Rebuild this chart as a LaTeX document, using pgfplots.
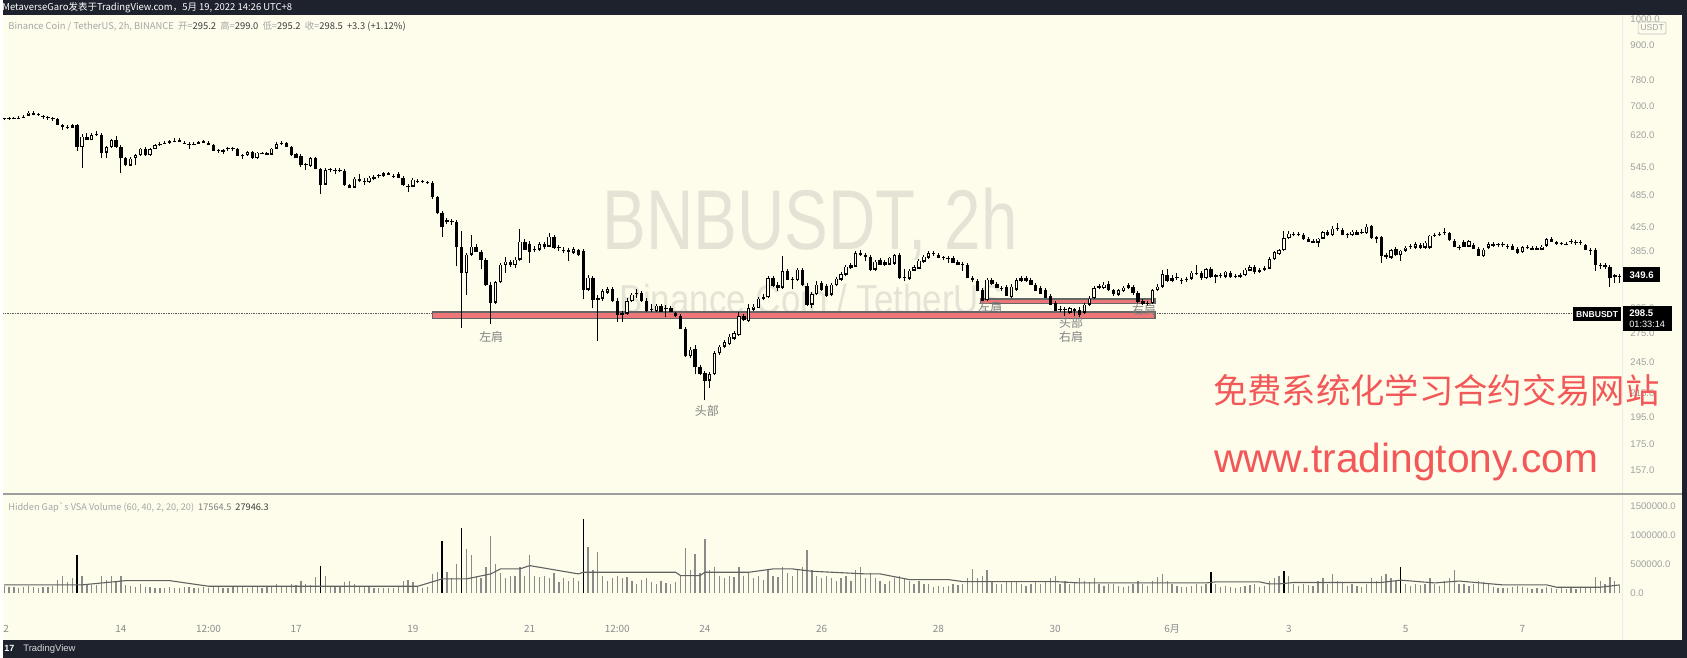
\documentclass[border=0pt]{standalone}
\usepackage{fontspec}
\setmainfont{Liberation Sans}
\newfontfamily\cjk{Noto Sans CJK SC}
\usepackage{graphicx}
\usepackage{pgfplots}
\usepackage{pgfplotstable}
\pgfplotsset{compat=1.18}
\definecolor{bgc}{RGB}{254,253,236}
\definecolor{darkbar}{RGB}{30,34,45}
\definecolor{axlab}{RGB}{160,160,160}
\definecolor{datelab}{RGB}{140,140,140}
\definecolor{redtxt}{RGB}{242,88,88}
\definecolor{wm}{RGB}{228,227,214}
\definecolor{volgray}{RGB}{138,138,138}
\definecolor{bandred}{RGB}{238,118,118}
\definecolor{leggray}{RGB}{166,166,166}
\definecolor{legdark}{RGB}{60,60,60}
\definecolor{pattxt}{RGB}{130,130,130}

\pgfplotstableread{
i o h l c v k
0 664 668 660 665 120 0
1 664 670 662 668 100 0
2 668 670 664 665 110 0
3 665 671 663 669 90 0
4 669 675 667 672 100 0
5 674 685 672 683 120 0
6 683 686 675 677 110 0
7 677 680 672 675 90 0
8 673 675 665 671 100 0
9 670 672 662 667 110 0
10 666 669 658 664 120 0
11 666 668 648 650 220 0
12 649 651 634 645 300 0
13 644 647 636 642 180 0
14 642 650 640 648 260 0
15 648 650 583 593 655 1
16 593 623 543 618 300 0
17 618 626 608 610 150 0
18 610 627 608 622 140 0
19 622 632 618 624 130 0
20 624 627 566 579 290 0
21 579 595 566 593 220 0
22 593 612 590 610 300 0
23 610 618 590 593 200 0
24 593 596 531 566 290 0
25 566 568 548 550 140 0
26 549 568 547 565 120 0
27 566 575 550 573 100 0
28 573 590 570 589 150 0
29 589 592 571 573 110 0
30 573 590 570 587 100 0
31 588 600 586 597 90 0
32 597 603 594 601 80 0
33 601 607 599 604 90 0
34 604 608 598 605 100 0
35 606 614 604 609 80 0
36 610 613 603 606 90 0
37 604 606 599 601 100 0
38 600 603 588 598 110 0
39 598 603 596 601 80 0
40 601 607 599 605 90 0
41 604 610 601 607 100 0
42 603 606 596 597 90 0
43 597 598 583 584 120 0
44 586 588 577 584 100 0
45 584 586 575 582 90 0
46 587 591 583 588 80 0
47 588 591 583 587 100 0
48 587 589 571 572 120 0
49 573 575 564 571 100 0
50 573 581 571 580 90 0
51 580 582 564 566 110 0
52 566 580 564 579 100 0
53 577 580 574 577 90 0
54 578 580 572 573 100 0
55 575 590 573 589 120 0
56 589 603 587 600 150 0
57 601 606 597 603 100 0
58 603 605 591 593 120 0
59 593 594 571 573 150 0
60 576 578 565 566 130 0
61 572 574 545 550 200 0
62 552 554 539 550 150 0
63 548 568 546 566 130 0
64 566 568 540 541 270 0
65 542 544 488 508 470 1
66 508 542 506 539 300 0
67 539 543 533 540 120 0
68 540 543 529 537 110 0
69 538 542 533 540 100 0
70 538 540 505 507 180 0
71 507 509 500 502 212 0
72 502 524 500 521 150 0
73 521 529 512 516 110 0
74 516 520 507 514 100 0
75 513 525 510 523 100 0
76 520 528 516 525 90 0
77 526 530 522 527 80 0
78 526 534 524 532 90 0
79 532 534 527 529 80 0
80 527 530 522 525 90 0
81 530 533 520 522 120 0
82 522 525 505 508 200 0
83 506 509 491 503 230 0
84 504 520 502 518 180 0
85 515 518 511 514 100 0
86 514 516 510 513 90 0
87 512 514 508 511 100 0
88 511 515 478 482 330 0
89 482 484 450 452 367 0
90 452 455 409 427 900 1
91 436 442 432 439 360 0
92 438 440 430 436 250 0
93 436 438 363 394 500 0
94 394 420 282 353 1120 1
95 353 383 322 381 760 0
96 381 413 378 394 655 0
97 394 398 385 386 300 0
98 385 387 358 373 250 0
99 373 375 335 336 450 0
100 336 340 286 313 980 0
101 313 342 311 340 500 0
102 340 368 338 366 350 0
103 365 376 353 370 250 0
104 370 372 362 365 300 0
105 365 376 360 373 300 0
106 373 423 371 402 450 0
107 402 405 388 389 300 0
108 398 402 368 386 655 0
109 388 394 384 390 300 0
110 389 400 386 398 280 0
111 398 400 390 394 300 0
112 394 416 392 410 250 0
113 410 412 390 392 350 0
114 393 395 386 392 180 0
115 388 392 383 387 250 0
116 389 391 370 386 200 0
117 384 392 382 390 250 0
118 389 390 378 380 200 0
119 387 390 317 330 1270 1
120 330 350 328 347 793 0
121 347 349 305 317 400 0
122 317 322 267 318 706 0
123 318 330 315 328 300 0
124 326 333 324 331 200 0
125 331 333 313 315 250 0
126 315 318 288 298 300 0
127 300 302 288 298 250 0
128 299 318 297 315 280 0
129 315 325 313 323 200 0
130 324 330 318 325 150 0
131 326 328 313 315 220 0
132 315 318 300 302 250 0
133 304 310 300 305 180 0
134 302 310 300 309 150 0
135 309 311 300 301 200 0
136 306 309 295 305 170 0
137 306 308 300 301 150 0
138 300 301 295 296 180 0
139 296 298 280 281 300 0
140 281 283 250 251 776 0
141 251 260 249 258 400 0
142 259 262 233 240 670 0
143 240 242 232 233 350 0
144 234 236 209 227 930 0
145 227 235 220 233 400 0
146 233 256 232 254 450 0
147 254 262 252 261 300 0
148 261 268 259 266 250 0
149 264 275 262 272 300 0
150 270 278 268 276 280 0
151 274 300 272 296 450 0
152 296 298 290 292 300 0
153 290 310 288 306 350 0
154 304 310 302 308 250 0
155 306 320 305 318 300 0
156 318 323 316 320 220 0
157 320 348 319 346 400 0
158 346 348 333 335 300 0
159 337 340 328 333 280 0
160 333 378 331 356 450 0
161 356 358 343 344 350 0
162 345 347 330 343 300 0
163 343 360 341 358 400 0
164 358 360 335 337 450 0
165 335 338 308 310 740 0
166 310 326 306 324 400 0
167 324 341 322 337 300 0
168 339 341 328 330 250 0
169 335 337 320 322 300 0
170 323 339 321 337 250 0
171 336 347 334 345 200 0
172 344 354 342 352 250 0
173 351 365 349 363 300 0
174 361 367 359 365 200 0
175 363 386 361 383 400 0
176 384 387 379 381 450 0
177 381 383 370 377 250 0
178 378 380 356 358 350 0
179 358 372 356 370 250 0
180 373 375 364 365 200 0
181 370 372 363 365 150 0
182 366 377 364 376 200 0
183 367 382 365 380 250 0
184 381 383 344 346 300 0
185 348 358 341 346 250 0
186 345 359 343 357 200 0
187 357 364 355 362 150 0
188 360 374 358 372 200 0
189 370 380 368 378 150 0
190 376 386 374 383 150 0
191 382 386 379 382 100 0
192 381 383 375 376 120 0
193 376 379 372 376 100 0
194 376 378 368 374 120 0
195 376 378 367 368 150 0
196 370 372 364 365 130 0
197 367 369 356 365 150 0
198 365 367 345 346 250 0
199 346 348 340 344 414 0
200 342 344 327 328 250 0
201 330 332 314 315 300 0
202 316 346 314 344 400 0
203 343 345 336 338 200 0
204 338 340 332 333 150 0
205 333 335 327 331 150 0
206 334 336 321 322 200 0
207 320 337 318 334 180 0
208 330 346 328 343 200 0
209 342 348 340 346 150 0
210 346 348 340 342 120 0
211 343 345 336 337 150 0
212 337 339 327 328 180 0
213 332 334 323 324 150 0
214 330 332 318 319 200 0
215 321 323 309 310 250 0
216 313 315 302 303 300 0
217 304 308 300 305 150 0
218 305 307 296 304 200 0
219 300 307 298 306 150 0
220 304 306 296 303 180 0
221 304 307 294 298 250 0
222 300 312 298 310 200 0
223 310 321 308 318 180 0
224 319 334 317 332 250 0
225 333 337 330 334 150 0
226 332 340 330 337 120 0
227 338 341 327 329 150 0
228 329 331 321 324 150 0
229 323 331 321 329 120 0
230 328 335 326 333 100 0
231 332 338 330 336 120 0
232 334 336 322 325 150 0
233 325 327 312 314 200 0
234 315 317 309 311 150 0
235 311 314 308 312 120 0
236 312 331 310 329 200 0
237 329 337 327 334 270 0
238 334 357 332 352 320 0
239 350 358 340 342 200 0
240 346 350 340 342 150 0
241 347 353 343 346 120 0
242 344 346 337 342 100 0
243 344 347 340 345 100 0
244 345 356 343 354 120 0
245 353 364 350 352 150 0
246 354 356 343 346 120 0
247 346 360 344 359 150 0
248 360 362 346 348 360 1
249 350 352 338 348 150 0
250 349 353 345 350 100 0
251 348 356 345 355 120 0
252 353 355 346 348 100 0
253 349 352 345 348 90 0
254 348 353 345 350 100 0
255 350 360 348 358 120 0
256 357 364 355 362 130 0
257 362 365 352 355 150 0
258 355 360 353 358 100 0
259 358 363 356 361 120 0
260 360 376 358 374 200 0
261 374 386 372 385 250 0
262 382 390 380 388 300 0
263 388 420 386 408 370 1
264 408 420 405 415 300 0
265 413 418 410 414 150 0
266 414 417 411 413 120 0
267 413 415 404 406 150 0
268 407 409 400 402 130 0
269 403 405 399 400 120 0
270 400 408 393 407 200 0
271 407 420 405 418 250 0
272 419 421 411 413 150 0
273 413 427 411 424 330 0
274 424 433 420 423 200 0
275 422 424 412 413 180 0
276 414 416 408 413 120 0
277 413 421 411 419 150 0
278 419 421 413 414 120 0
279 418 422 414 416 100 0
280 416 431 414 427 150 0
281 428 430 406 408 250 0
282 409 411 399 406 200 0
283 409 411 368 379 300 0
284 377 383 374 381 320 0
285 376 390 374 388 250 0
286 390 392 378 380 200 0
287 380 388 371 387 450 1
288 387 394 385 392 150 0
289 394 397 390 395 120 0
290 392 400 390 398 150 0
291 397 399 390 392 130 0
292 392 402 390 400 150 0
293 392 413 390 412 250 0
294 412 416 409 413 150 0
295 413 417 410 414 120 0
296 416 424 412 418 200 0
297 416 418 403 404 250 0
298 403 405 392 393 390 0
299 393 395 387 391 150 0
300 402 404 393 394 150 0
301 394 404 392 403 120 0
302 397 399 389 390 150 0
303 390 392 378 379 200 0
304 379 391 377 389 180 0
305 392 400 390 398 150 0
306 399 401 393 395 100 0
307 397 399 392 396 90 0
308 396 400 393 396 80 0
309 394 397 390 394 90 0
310 395 397 388 389 100 0
311 390 392 382 384 120 0
312 385 394 383 393 100 0
313 393 395 389 391 80 0
314 392 394 388 389 70 0
315 389 394 387 392 80 0
316 389 396 387 394 70 0
317 395 407 393 406 100 0
318 407 409 401 402 90 0
319 399 402 396 399 70 0
320 398 401 395 398 80 0
321 397 401 395 399 70 0
322 401 405 398 402 80 0
323 401 404 396 400 70 0
324 401 404 396 400 80 0
325 396 398 388 389 90 0
326 389 391 380 387 100 0
327 389 391 356 366 280 0
328 366 368 359 364 200 0
329 362 367 359 365 150 0
330 363 365 333 346 270 0
331 350 352 339 348 200 0
332 348 352 339 349.6 130 0
}\candles

\pgfplotstableread{
i v
0 138
16 138
25 212
34 212
42 115
85 115
90 241
95 241
100 328
102 414
106 414
108 471
112 414
118 328
119 356
138 356
139 299
143 299
144 356
153 356
158 414
162 414
166 374
177 328
180 328
186 230
194 230
197 195
216 195
221 172
247 172
249 190
258 190
260 155
262 155
265 180
283 180
287 220
294 172
299 205
308 138
317 138
319 98
328 98
332 138
}\vma

\begin{document}
\begin{tikzpicture}
\begin{scope}[x=1pt,y=1pt]
% backgrounds
\fill[darkbar] (0,0) rectangle (1687,659);
\fill[bgc] (0,18) rectangle (1682,644);
% watermark
\node[anchor=base, text=wm, inner sep=0pt] at (808.5,409) {\scalebox{0.772}[1]{\fontsize{85}{85}\selectfont BNBUSDT, 2h}};
\node[anchor=base, text=wm, inner sep=0pt] at (809.5,345) {\scalebox{0.864}[1]{\fontsize{40.5}{40.5}\selectfont Binance Coin / TetherUS}};
% separators
\draw[black!7, line width=0.6pt] (1622,18) -- (1622,644);
\draw[black!38, line width=1.3pt] (0,164) -- (1682,164);
\end{scope}

% ---------------- price pane ----------------
\begin{axis}[
  at={(0pt,164pt)}, anchor=south west,
  width=1622pt, height=480pt, scale only axis,
  xmin=-0.205, xmax=332.5,
  ymin=4.957938, ymax=6.925300,
  axis line style={draw=none},
  major tick length=0pt,
  xtick=\empty,
  ytick={6.907755,6.802395,6.659294,6.551080,6.429719,6.300786,6.184149,6.052089,5.953243,5.720312,5.616771,5.501258,5.370638,5.273000,5.164786,5.056246},
  yticklabels={1000.0,900.0,780.0,700.0,620.0,545.0,485.0,425.0,385.0,305.0,275.0,245.0,215.0,195.0,175.0,157.0},
  yticklabel pos=right,
  yticklabel style={anchor=west, xshift=4.8pt, text=axlab, font=\fontsize{9.6}{11}\selectfont},
]
% dotted last-price line
\draw[black!65, densely dotted, line width=0.7pt] (axis cs:-0.205,5.69877) -- (axis cs:322.3,5.69877);
% neckline bands
\filldraw[fill=bandred, draw=black!60, line width=1.1pt] (axis cs:88.0,5.68017) rectangle (axis cs:236.5,5.70545);
\filldraw[fill=bandred, draw=black!60, line width=1.1pt] (axis cs:200.6,5.73979) rectangle (axis cs:236.5,5.75890);
% wicks
\addplot[draw=none, mark=none, forget plot,
  error bars/.cd, y dir=plus, y explicit, error mark=none,
  error bar style={draw=black, solid, line width=1pt}]
  table[x=i, y expr={ln(\thisrow{l})}, y error expr={ln(\thisrow{h})-ln(\thisrow{l})}]{\candles};
% bodies
\addplot[draw=none, mark=none, forget plot,
  error bars/.cd, y dir=plus, y explicit, error mark=none,
  error bar style={draw=black, solid, line width=3.4pt}]
  table[x=i, y expr={ln(min(\thisrow{o},\thisrow{c}))-0.002}, y error expr={max(abs(ln(\thisrow{c})-ln(\thisrow{o})),0.0045)}]{\candles};
% hollow inner
\addplot[draw=none, mark=none, forget plot,
  restrict expr to domain={ln(\thisrow{c}/\thisrow{o})}{0.012:10},
  error bars/.cd, y dir=plus, y explicit, error mark=none,
  error bar style={draw=bgc, solid, line width=1.4pt}]
  table[x=i, y expr={ln(\thisrow{o})+0.0041}, y error expr={ln(\thisrow{c})-ln(\thisrow{o})-0.0082}]{\candles};
\end{axis}

% ---------------- volume pane ----------------
\begin{axis}[
  at={(0pt,41pt)}, anchor=south west,
  width=1622pt, height=122pt, scale only axis,
  xmin=-0.205, xmax=332.5,
  ymin=-413.8, ymax=1689.7,
  axis line style={draw=none},
  major tick length=0pt,
  ytick={0,500,1000,1500},
  yticklabels={0.0,500000.0,1000000.0,1500000.0},
  yticklabel pos=right,
  yticklabel style={anchor=west, xshift=4.8pt, text=axlab, font=\fontsize{9.6}{11}\selectfont},
  xtick={0.4,24,42,60,84,108,126,144,168,192,216,240,264,288,312},
  xticklabels={2,14,12:00,17,19,21,12:00,24,26,28,30,6月,3,5,7},
  xticklabel style={anchor=center, yshift=-12pt, text=datelab, font=\cjk\fontsize{10}{12}\selectfont},
]
\addplot[ycomb, volgray, line width=1.3pt, mark=none, restrict expr to domain={\thisrow{k}}{-0.5:0.5}] table[x=i, y=v]{\candles};
\addplot[ycomb, black, line width=1.4pt, mark=none, restrict expr to domain={\thisrow{k}}{0.5:1.5}] table[x=i, y=v]{\candles};
\addplot[black!62, line width=1.1pt, mark=none] table[x=i, y=v]{\vma};
\end{axis}

\begin{scope}[x=1pt,y=1pt]
% pattern labels
\begin{scope}[every node/.style={text=pattxt, inner sep=0pt, font=\cjk\fontsize{12}{12}\selectfont}]
\node at (489,321) {左肩};
\node at (705,247) {头部};
\node at (989,352) {左肩};
\node at (1070,335) {头部};
\node at (1070,321) {右肩};
\node at (1143,349) {右肩};
\end{scope}

% promo text
\node[anchor=base west, text=redtxt, inner sep=0pt] at (1212,254.5) {\cjk\fontsize{34.4}{36}\selectfont 免费系统化学习合约交易网站};
\node[anchor=base west, text=redtxt, inner sep=0pt] at (1213,186) {\fontsize{40.8}{42}\selectfont www.tradingtony.com};

% price scale boxes
\fill[black] (1623,376) rectangle (1660,391);
\node[text=white, inner sep=0pt, font=\bfseries\fontsize{9.6}{11}\selectfont] at (1641.5,383.5) {349.6};
\fill[black] (1573,337) rectangle (1621,351);
\node[text=white, inner sep=0pt, font=\bfseries\fontsize{8.6}{10}\selectfont] at (1597,344) {BNBUSDT};
\fill[black] (1623,327) rectangle (1672,352);
\node[anchor=west, text=white, inner sep=0pt, font=\bfseries\fontsize{9.6}{11}\selectfont] at (1629,345) {298.5};
\node[anchor=west, text=white, inner sep=0pt, font=\fontsize{9.2}{11}\selectfont] at (1629,334) {01:33:14};
\filldraw[fill=bgc, draw=black!25, line width=0.7pt, rounded corners=2pt] (1638,625) rectangle (1666,637);
\node[text=axlab, inner sep=0pt, font=\fontsize{8.6}{10}\selectfont] at (1652,631) {USDT};

% legends
\node[anchor=west, inner sep=0pt, font=\cjk\fontsize{9.4}{11}\selectfont] at (5,632)
 {\textcolor{leggray}{Binance Coin / TetherUS, 2h, BINANCE\ \ 开=}\textcolor{legdark}{295.2}\ \ \textcolor{leggray}{高=}\textcolor{legdark}{299.0}\ \ \textcolor{leggray}{低=}\textcolor{legdark}{295.2}\ \ \textcolor{leggray}{收=}\textcolor{legdark}{298.5}\ \ \textcolor{legdark}{+3.3 (+1.12\%)}};
\node[anchor=west, inner sep=0pt, font=\cjk\fontsize{9.2}{11}\selectfont] at (5,151)
 {\textcolor{leggray}{Hidden Gap`s VSA Volume (60, 40, 2, 20, 20)}\ \ \textcolor{black!50}{17564.5}\ \ \textcolor{legdark}{27946.3}};

% frame bars
\fill[darkbar] (0,644) rectangle (1687,659);
\fill[darkbar] (0,0) rectangle (1687,18);
\fill[darkbar] (1682,0) rectangle (1687,659);
\node[anchor=west, text=white, inner sep=0pt, font=\cjk\fontsize{9.5}{11}\selectfont] at (-1,651.5) {MetaverseGaro发表于TradingView.com，5月 19, 2022 14:26 UTC+8};
\node[anchor=west, text=white, inner sep=0pt, font=\bfseries\fontsize{9}{10}\selectfont] at (1,9) {17};
\node[anchor=west, text=white!85!black, inner sep=0pt, font=\fontsize{9.5}{11}\selectfont] at (20,9) {TradingView};
\end{scope}
\end{tikzpicture}
\end{document}
